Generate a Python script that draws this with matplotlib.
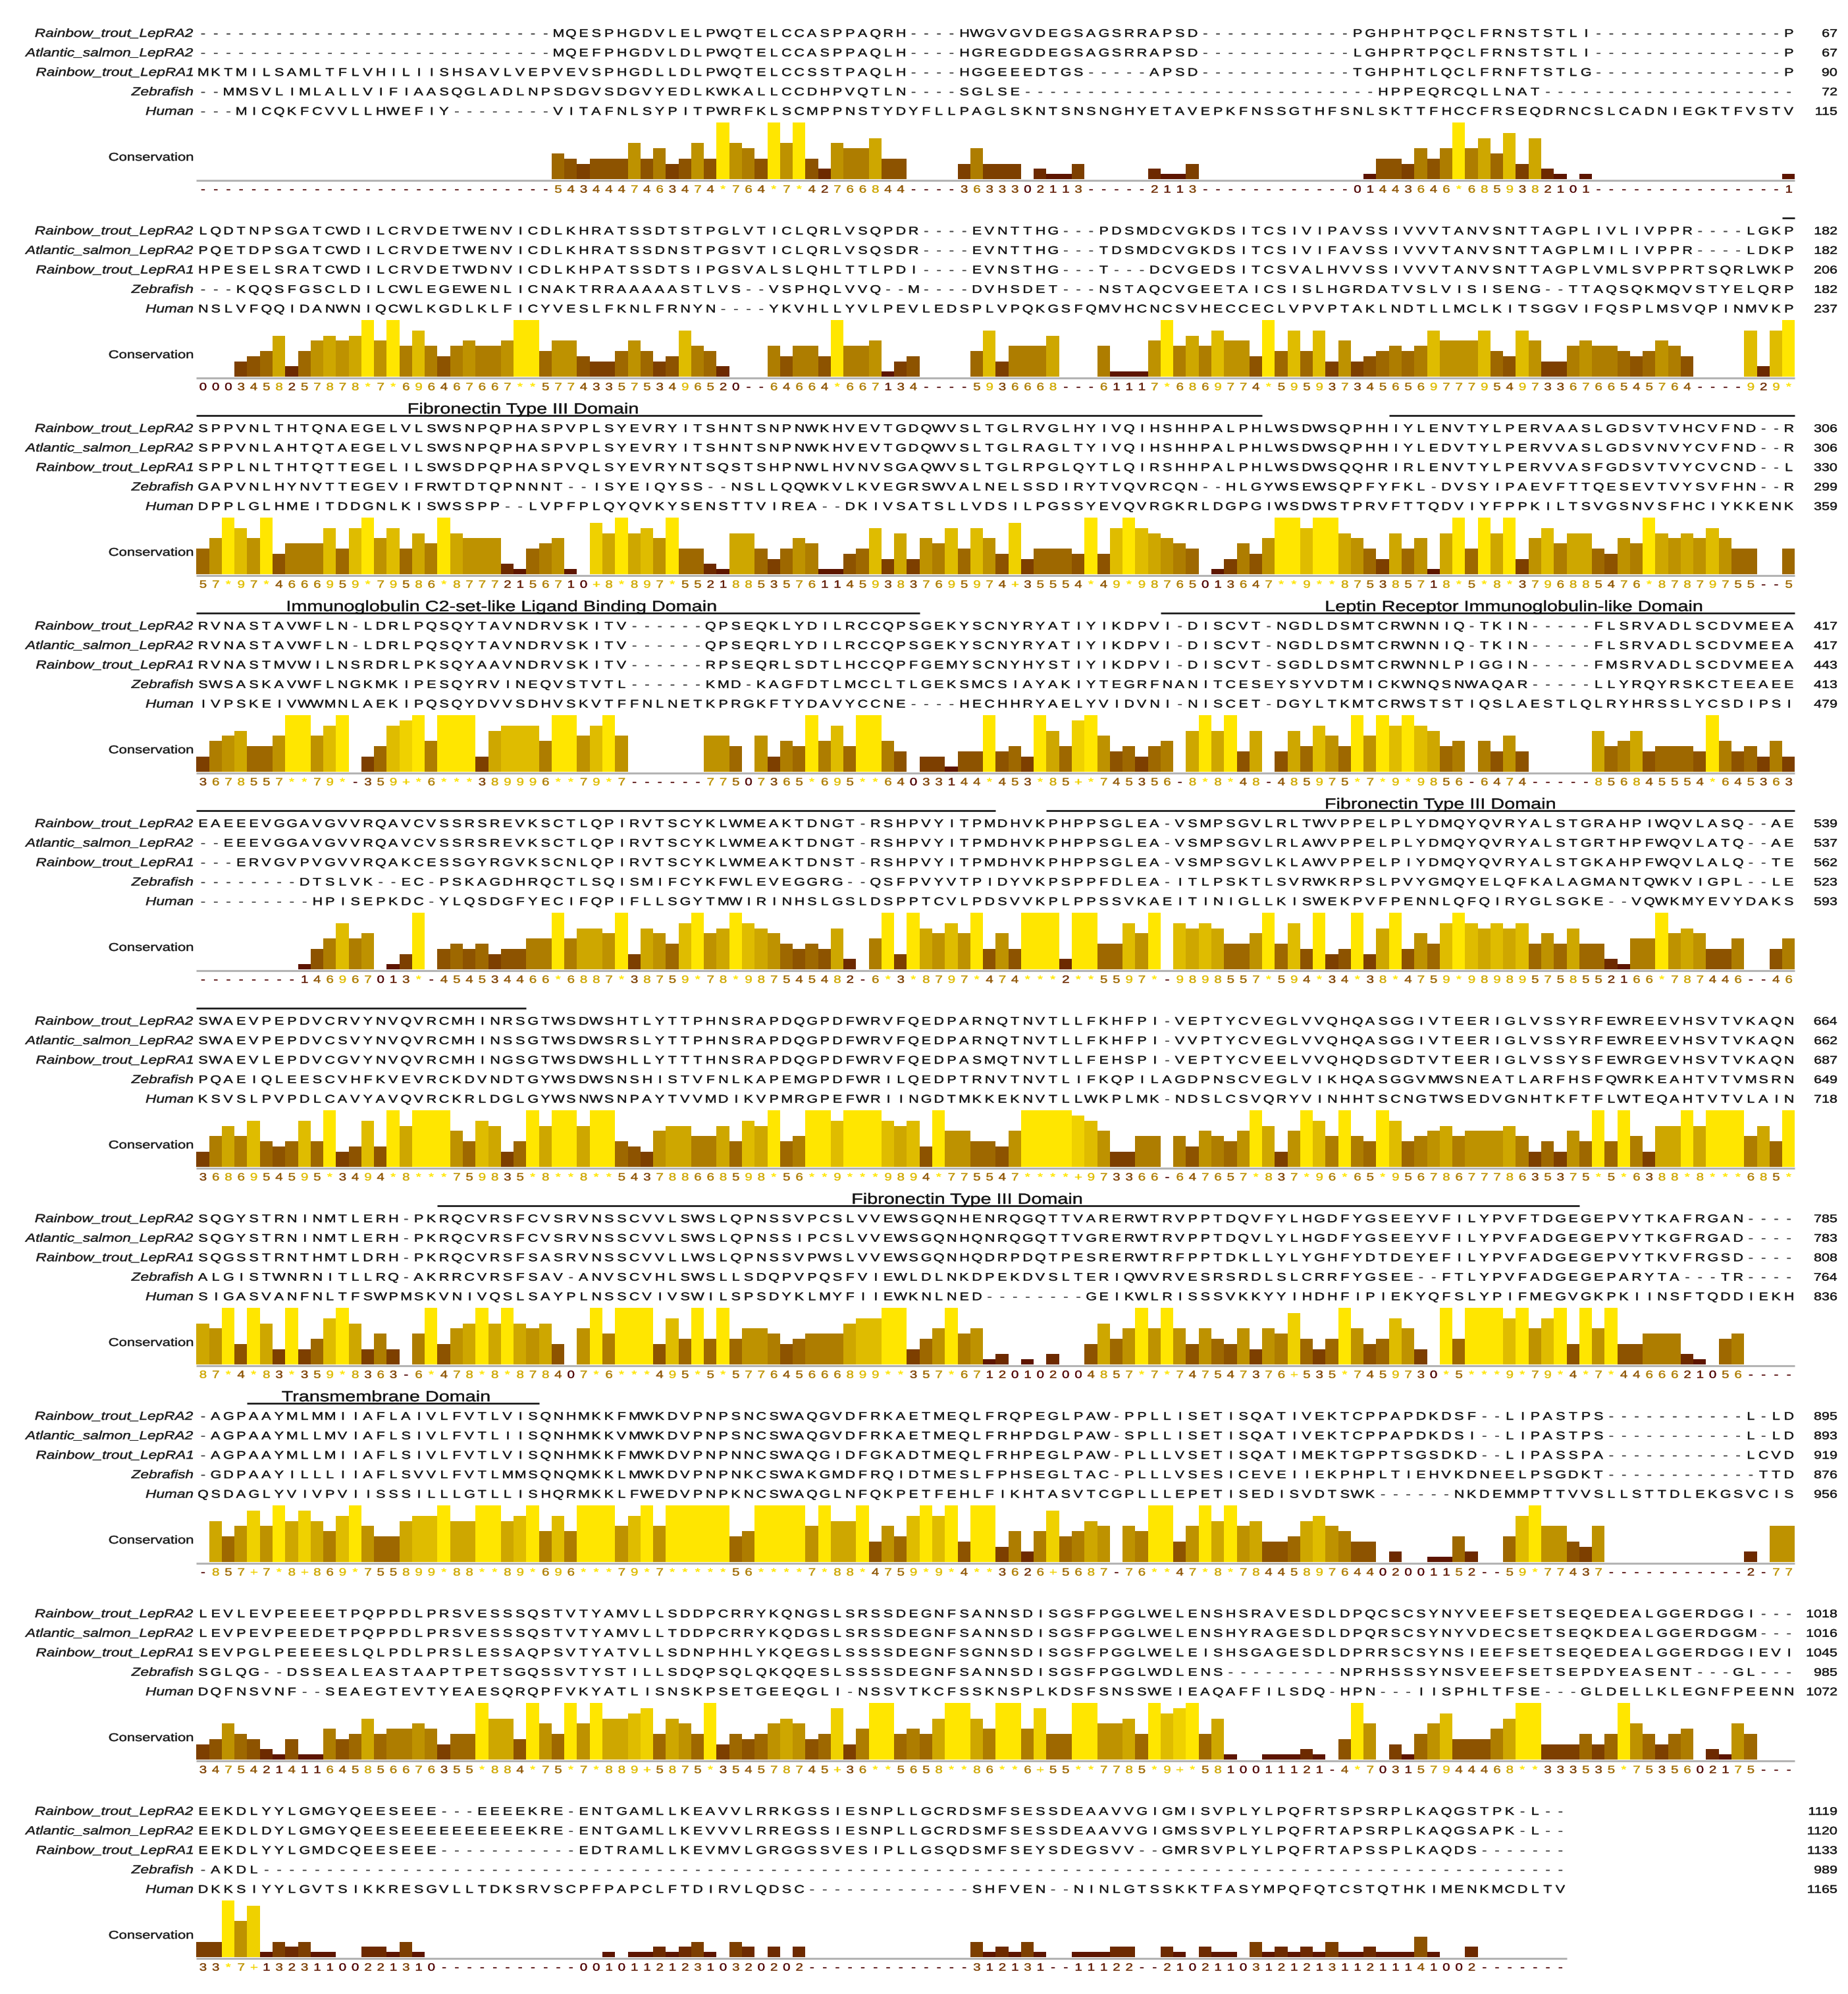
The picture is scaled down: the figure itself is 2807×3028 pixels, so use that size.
import numpy as np
import matplotlib
matplotlib.use("Agg")
import matplotlib.pyplot as plt
from matplotlib.textpath import TextPath
from matplotlib.font_manager import FontProperties
from matplotlib.path import Path
from matplotlib.patches import PathPatch

# ---- data: alignment, one string per block ----
SPECIES = ["Rainbow_trout_LepRA2", "Atlantic_salmon_LepRA2", "Rainbow_trout_LepRA1",
           "Zebrafish", "Human"]

RT_LEPRA2 = [
    "-" * 28 + "MQESPHGDVLELPWQTELCCASPPAQRH----HWGVGVDEGSAGSRRAPSD" + "-" * 12 + "PGHPHTPQCLFRNSTSTLI" + "-" * 15 + "P",
    "LQDTNPSGATCWDILCRVDETWENVICDLKHRATSSDTSTPGLVTICLQRLVSQPDR----EVNTTHG---PDSMDCVGKDSITCSIVIPAVSSIVVVTANVSNTTAGPLIVLIVPPR----LGKP",
    "SPPVNLTHTQNAEGELVLSWSNPQPHASPVPLSYEVRYITSHNTSNPNWKHVEVTGDQWVSLTGLRVGLHYIVQIHSHHPALPHLWSDWSQPHHIYLENVTYLPERVAASLGDSVTVHCVFND--R",
    "RVNASTAVWFLN-LDRLPQSQYTAVNDRVSKITV------QPSEQKLYDILRCCQPSGEKYSCNYRYATIYIKDPVI-DISCVT-NGDLDSMTCRWNNIQ-TKIN-----FLSRVADLSCDVMEEA",
    "EAEEEVGGAVGVVRQAVCVSSRSREVKSCTLQPIRVTSCYKLWMEAKTDNGT-RSHPVYITPMDHVKPHPPSGLEA-VSMPSGVLRLTWVPPELPLYDMQYQVRYALSTGRAHPIWQVLASQ--AE",
    "SWAEVPEPDVCRVYNVQVRCMHINRSGTWSDWSHTLYTTPHNSRAPDQGPDFWRVFQEDPARNQTNVTLLFKHFPI-VEPTYCVEGLVVQHQASGGIVTEERIGLVSSYRFEWREEVHSVTVKAQN",
    "SQGYSTRNINMTLERH-PKRQCVRSFCVSRVNSSCVVLSWSLQPNSSVPCSLVVEWSGQNHENRQGQTTVARERWTRVPPTDQVFYLHGDFYGSEEYVFILYPVFTDGEGEPVYTKAFRGAN----",
    "-AGPAAYMLMMIIAFLAIVLFVTLVISQNHMKKFMWKDVPNPSNCSWAQGVDFRKAETMEQLFRQPEGLPAW-PPLLISETISQATIVEKTCPPAPDKDSF--LIPASTPS" + "-" * 11 + "L-LD",
    "LEVLEVPEEEETPQPPDLPRSVESSSQSTVTYAMVLLSDDPCRRYKQNGSLSRSSDEGNFSANNSDISGSFPGGLWELENSHSRAVESDLDPQCSCSYNYVEEFSETSEQEDEALGGERDGGI---",
    "EEKDLYYLGMGYQEESEEE---EEEEKRE-ENTGAMLLKEAVVLRRKGSSIESNPLLGCRDSMFSESSDEAAVVGIGMISVPLYLPQFRTSPSRPLKAQGSTPK-L--",
]

AS_LEPRA2 = [
    "-" * 28 + "MQEFPHGDVLDLPWQTELCCASPPAQLH----HGREGDDEGSAGSRRAPSD" + "-" * 12 + "LGHPRTPQCLFRNSTSTLI" + "-" * 15 + "P",
    "PQETDPSGATCWDILCRVDETWENVICDLKHRATSSDNSTPGSVTICLQRLVSQSDR----EVNTTHG---TDSMDCVGKDSITCSIVIFAVSSIVVVTANVSNTTAGPLMILIVPPR----LDKP",
    "SPPVNLAHTQTAEGELVLSWSNPQPHASPVPLSYEVRYITSHNTSNPNWKHVEVTGDQWVSLTGLRAGLTYIVQIHSHHPALPHLWSDWSQPHHIYLEDVTYLPERVVASLGDSVNVYCVFND--R",
    "RVNASTAVWFLN-LDRLPQSQYTAVNDRVSKITV------QPSEQRLYDILRCCQPSGEKYSCNYRYATIYIKDPVI-DISCVT-NGDLDSMTCRWNNIQ-TKIN-----FLSRVADLSCDVMEEA",
    "--EEEVGGAVGVVRQAVCVSSRSREVKSCTLQPIRVTSCYKLWMEAKTDNGT-RSHPVYITPMDHVKPHPPSGLEA-VSMPSGVLRLAWVPPELPLYDMQYQVRYALSTGRTHPFWQVLATQ--AE",
    "SWAEVPEPDVCSVYNVQVRCMHINSSGTWSDWSRSLYTTPHNSRAPDQGPDFWRVFQEDPARNQTNVTLLFKHFPI-VVPTYCVEGLVVQHQASGGIVTEERIGLVSSYRFEWREEVHSVTVKAQN",
    "SQGYSTRNINMTLERH-PKRQCVRSFCVSRVNSSCVVLSWSLQPNSSIPCSLVVEWSGQNHQNRQGQTTVGRERWTRVPPTDQVLYLHGDFYGSEEYVFILYPVFADGEGEPVYTKGFRGAD----",
    "-AGPAAYMLLMVIAFLSIVLFVTLIISQNHMKKVMWKDVPNPSNCSWAQGVDFRKAETMEQLFRHPDGLPAW-SPLLISETISQATIVEKTCPPAPDKDSI--LIPASTPS" + "-" * 11 + "L-LD",
    "LEVPEVPEEDETPQPPDLPRSVESSSQSTVTYAMVLLTDDPCRRYKQDGSLSRSSDEGNFSANNSDISGSFPGGLWELENSHYRAGESDLDPQRSCSYNYVDECSETSEQKDEALGGERDGGM---",
    "EEKDLDYLGMGYQEES" + "E" * 10 + "KRE-ENTGAMLLKEVVVLRREGSSIESNPLLGCRDSMFSESSDEAAVVGIGMSSVPLYLPQFRTAPSRPLKAQGSAPK-L--",
]

RT_LEPRA1 = [
    "MKTMILSAMLTFLVHILIISHSAVLVEPVEVSPHGDLLDLPWQTELCCSSTPAQLH----HGGEEEDTGS-----APSD" + "-" * 12 + "TGHPHTLQCLFRNFTSTLG" + "-" * 15 + "P",
    "HPESELSRATCWDILCRVDETWDNVICDLKHPATSSDTSIPGSVALSLQHLTTLPDI----EVNSTHG---T---DCVGEDSITCSVALHVVSSIVVVTANVSNTTAGPLVMLSVPPRTSQRLWKP",
    "SPPLNLTHTQTTEGELILSWSDPQPHASPVQLSYEVRYNTSQSTSHPNWLHVNVSGAQWVSLTGLRPGLQYTLQIRSHHPALPHLWSDWSQQHRIRLENVTYLPERVVASFGDSVTVYCVCND--L",
    "RVNASTMVWILNSRDRLPKSQYAAVNDRVSKITV------RPSEQRLSDTLHCCQPFGEMYSCNYHYSTIYIKDPVI-DISCVT-SGDLDSMTCRWNNLPIGGIN-----FMSRVADLSCDVMEEA",
    "---ERVGVPVGVVRQAKCESSGYRGVKSCNLQPIRVTSCYKLWMEAKTDNST-RSHPVYITPMDHVKPHPPSGLEA-VSMPSGVLKLAWVPPELPIYDMQYQVRYALSTGKAHPFWQVLALQ--TE",
    "SWAEVLEPDVCGVYNVQVRCMHINGSGTWSDWSHLLYTTTHNSRAPDQGPDFWRVFQEDPASMQTNVTLLFEHSPI-VEPTYCVEELVVQHQDSGDTVTEERIGLVSSYSFEWRGEVHSVTVKAQN",
    "SQGSSTRNTHMTLDRH-PKRQCVRSFSASRVNSSCVVLLWSLQPNSSVPWSLVVEWSGQNHQDRPDQTPESRERWTRFPPTDKLLYLYGHFYDTDEYEFILYPVFADGEGEPVYTKVFRGSD----",
    "-AGPAAYMLLMIIAFLSIVLFVTLVISQNHMKKFMWKDVPNPNNCSWAQGIDFGKADTMEQLFRHPEGLPAW-PLLLVSETISQATIMEKTGPPTSGSDKD--LIPASSPA" + "-" * 11 + "LCVD",
    "SEVPGLPEEEESLQLPDLPRSLESSAQPSVTYATVLLSDNPHHLYKQEGSLSSSSDEGNFSGNNSDISGSFPGGLWELEISHSGAGESDLDPRRSCSYNSIEEFSETSEQEDEALGGERDGGIEVI",
    "EEKDLYYLGMDCQEESEEE" + "-" * 11 + "EDTRAMLLKEVMVLGRGGSSVESIPLLGSQDSMFSEYSDEGSVV--GMRSVPLYLPQFRTAPSSPLKAQDS" + "-" * 7,
]

ZEBRAFISH = [
    "--MMSVLIMLALLVIFIAASQGLADLNPSDGVSDGVYEDLKWKALLCCDHPVQTLN----SGLSE" + "-" * 28 + "HPPEQRCQLLNAT" + "-" * 20,
    "---KQQSFGSCLDILCWLEGEWENLICNAKTRRAAAAASTLVS--VSPHQLVVQ--M----DVHSDET---NSTAQCVGEETAICSISLHGRDATVSLVISISENG--TTAQSQKMQVSTYELQRP",
    "GAPVNLHYNVTTEGEVIFRWTDTQPNNNT--ISYEIQYSS--NSLLQQWKVLKVEGRSWVALNELSSDIRYTVQVRCQN--HLGYWSEWSQPFYFKL-DVSYIPAEVFTTQESEVTVYSVFHN--R",
    "SWSASKAVWFLNGKMKIPESQYRVINEQVSTVTL------KMD-KAGFDTLMCCLTLGEKSMCSIAYAKIYTEGRFNANITCESEYSYVDTMICKWNQSNWAQAR-----LLYRQYRSKCTEEAEE",
    "--------DTSLVK--EC-PSKAGDHRQCTLSQISMIFCYKFWLEVEGGRG--QSFPVYVTPIDYVKPSPPFDLEA-ITLPSKTLSVRWKRPSLPVYGMQYELQFKALAGMANTQWKVIGPL--LE",
    "PQAEIQLEESCVHFKVEVRCKDVNDTGYWSDWSNSHISTVFNLKAPEMGPDFWRILQEDPTRNVTNVTLIFKQPILAGDPNSCVEGLVIKHQASGGVMWSNEATLARFHSFQWRKEAHTVTVMSRN",
    "ALGISTWNRNITLLRQ-AKRRCVRSFSAV-ANVSCVHLSWSLLSDQPVPQSFVIEWLDLNKDPEKDVSLTERIQWVRVESRSRDLSLCRRFYGSEE--FTLYPVFADGEGEPARYTA---TR----",
    "-GDPAAYILLLIIAFLSVVLFVTLMMSQNQMKKLMWKDVPNPNKCSWAKGMDFRQIDTMESLFPHSEGLTAC-PLLLVSESICEVEIIEKPHPLTIEHVKDNEELPSGDKT" + "-" * 12 + "TTD",
    "SGLQG--DSSEALEASTAAPTPETSGQSSVTYSTILLSDQPSQLQKQQESLSSSSDEGNFSANNSDISGSFPGGLWDLENS" + "-" * 9 + "NPRHSSSYNSVEEFSETSEPDYEASENT---GL---",
    "-AKDL" + "-" * 103,
]

HUMAN = [
    "---MICQKFCVVLLHWEFIY--------VITAFNLSYPITPWRFKLSCMPPNSTYDYFLLPAGLSKNTSNSNGHYETAVEPKFNSSGTHFSNLSKTTFHCCFRSEQDRNCSLCADNIEGKTFVSTV",
    "NSLVFQQIDANWNIQCWLKGDLKLFICYVESLFKNLFRNYN----YKVHLLYVLPEVLEDSPLVPQKGSFQMVHCNCSVHECCECLVPVPTAKLNDTLLMCLKITSGGVIFQSPLMSVQPINMVKP",
    "DPPLGLHMEITDDGNLKISWSSPP--LVPFPLQYQVKYSENSTTVIREA--DKIVSATSLLVDSILPGSSYEVQVRGKRLDGPGIWSDWSTPRVFTTQDVIYFPPKILTSVGSNVSFHCIYKKENK",
    "IVPSKEIVWWMNLAEKIPQSQYDVVSDHVSKVTFFNLNETKPRGKFTYDAVYCCNE----HECHHRYAELYVIDVNI-NISCET-DGYLTKMTCRWSTSTIQSLAESTLQLRYHRSSLYCSDIPSI",
    "---------HPISEPKDC-YLQSDGFYECIFQPIFLLSGYTMWIRINHSLGSLDSPPTCVLPDSVVKPLPPSSVKAEITINIGLLKISWEKPVFPENNLQFQIRYGLSGKE--VQWKMYEVYDAKS",
    "KSVSLPVPDLCAVYAVQVRCKRLDGLGYWSNWSNPAYTVVMDIKVPMRGPEFWRIINGDTMKKEKNVTLLWKPLMK-NDSLCSVQRYVINHHTSCNGTWSEDVGNHTKFTFLWTEQAHTVTVLAIN",
    "SIGASVANFNLTFSWPMSKVNIVQSLSAYPLNSSCVIVSWILSPSDYKLMYFIIEWKNLNED--------GEIKWLRISSSVKKYYIHDHFIPIEKYQFSLYPIFMEGVGKPKIINSFTQDDIEKH",
    "QSDAGLYVIVPVIISSSILLLGTLLISHQRMKKLFWEDVPNPKNCSWAQGLNFQKPETFEHLFIKHTASVTCGPLLLEPETISEDISVDTSWK------NKDEMMPTTVVSLLSTTDLEKGSVCIS",
    "DQFNSVNF--SEAEGTEVTYEAESQRQPFVKYATLISNSKPSETGEEQGLI-NSSVTKCFSSKNSPLKDSFSNSSWEIEAQAFFILSDQ-HPN---IISPHLTFSE---GLDELLKLEGNFPEENN",
    "DKKSIYYLGVTSIKKRESGVLLTDKSRVSCPFPAPCLFTDIRVLQDSC" + "-" * 13 + "SHFVEN--NINLGTSSKKTFASYMPQFQTCSTQTHKIMENKMCDLTV",
]

# conservation score per column: 0-9, '+' = 10, '*' = 11, '-' = gapped column
CONSERVATION = [
    "-" * 28 + "5434447463474*764*7*42766844----3633302113-----2113" + "-" * 12 + "01443646*6859382101" + "-" * 15 + "1",
    "0003458257878*7*696467667**5774335753496520--64664*667134----5936668---61117*6869774*595937345656977795497336766545764----929*",
    "57*97*4666959*79586*87772156710+8*897*5521885357611459383" + "7695974+35554*49*98765013647**9**875385718*5*8*3796885476*87879755" + "--5",
    "3678557**79*-359+*6***389996**79*7------77507365*695**64033144*453*85+*745356-8*8*48-485975*7*9*9856-6474-----856845554*645363",
    "--------146967013*-454534466*6887*38759*78*987545482-6*3*8797*474***2**5597*-9898557*594*34*38*4759*989895758552166*787446--46",
    "3686954595*3494*8***759835*8**8**543788668598*56**9***9894*775547****+973366-647657*837*96*65*9567867778635375*5*6388*8***685*",
    "87*4*83*359*8363-6*478*8*878407*6***495*5*577645666899**357*67120102004857*7*747547376+535*7459730*5***9*79*4*7*4466621056----",
    "-857+7*8+869*755899*88**89*696***79*7*****56****7*88*4759*9*4**3626+5687-76**47*8*7844589764402001152--59*77437" + "-" * 11 + "2-77",
    "3475421411645856676355*884*75*7*889+5875*354578745+36**5658**86**6+55**7785*9+*5810011121-4*703157944468**333535*7535602175---",
    "33*7+13231100221310" + "-" * 11 + "001011212310320202" + "-" * 13 + "312131--11122--2102110312121311211141002" + "-" * 7,
]

# domain bars: (block, first column, last column)
DOMAIN_SPANS = [(1, 126, 126), (2, 1, 84), (2, 95, 126), (3, 1, 57), (3, 77, 126),
                (4, 1, 63), (4, 68, 126), (5, 1, 26), (6, 20, 109), (7, 5, 27)]
# domain names: (block, centre column, text)
DOMAIN_NAMES = [(2, 26.2, "Fibronectin Type III Domain"),
                (3, 24.5, "Immunoglobulin C2-set-like Ligand Binding Domain"),
                (3, 104.3, "Leptin Receptor Immunoglobulin-like Domain"),
                (4, 98.5, "Fibronectin Type III Domain"),
                (6, 61.2, "Fibronectin Type III Domain"),
                (7, 15.4, "Transmembrane Domain")]

# ---- layout (pixels) ----
W, H = 2807, 3028
COL_PX = 19.27        # width of one column
COL1_PX = 308         # centre of column 1
BLOCK_PITCH = 300
ROW0 = 50
ROW_STEP = 29.6
BASE0 = 272
BAR_UNIT = 7.8
DIGIT_Y0 = 287
CONS_LABEL_Y0 = 238
STRETCH = 1.28


def px_col(px):
    return 1 + (px - COL1_PX) / COL_PX


def score_of(ch):
    if ch == "*":
        return 11
    if ch == "+":
        return 10
    return int(ch)


def cons_color(s):
    v = s / 11.0
    return (round(0.3 + 0.7 * v, 4), round(0.9 * v, 4), 0.0)


fp_reg = FontProperties(family="Liberation Sans")
fp_ita = FontProperties(family="Liberation Sans", style="italic")

_cache = {}
paths_by_color = {}


def add_text(s, x, ybase, em, color, prop, ha="center", stretch=STRETCH):
    key = (s, prop.get_style())
    if key not in _cache:
        _cache[key] = TextPath((0, 0), s, size=1.0, prop=prop)
    tp = _cache[key]
    v = tp.vertices
    if len(v) == 0:
        return
    if ha == "center":
        ref = (v[:, 0].min() + v[:, 0].max()) / 2
    elif ha == "right":
        ref = v[:, 0].max()
    else:
        ref = v[:, 0].min()
    nv = np.column_stack([x + (v[:, 0] - ref) * em * stretch / COL_PX,
                          ybase - v[:, 1] * em])
    paths_by_color.setdefault(color, []).append(Path(nv, tp.codes))


fig = plt.figure(figsize=(W / 100, H / 100), dpi=100)
ax = fig.add_axes([0, 0, 1, 1])
ax.set_xlim(px_col(0), px_col(W))
ax.set_ylim(H, 0)
ax.axis("off")

rows = [RT_LEPRA2, AS_LEPRA2, RT_LEPRA1, ZEBRAFISH, HUMAN]
counts = [0] * len(rows)
SEQ_EM = 16.8
NAME_EM = 17.7

for b in range(len(CONSERVATION)):
    top = b * BLOCK_PITCH
    ncol = len(RT_LEPRA2[b])
    for r, seqs in enumerate(rows):
        yb = top + ROW0 + r * ROW_STEP + 6.0
        add_text(SPECIES[r], px_col(293), yb, NAME_EM, "#1a1a1a", fp_ita, ha="right")
        for c, ch in enumerate(seqs[b]):
            add_text(ch, c + 1, yb, SEQ_EM, "#111111" if ch != "-" else "#444444", fp_reg)
        counts[r] += sum(1 for ch in seqs[b] if ch != "-")
        add_text(str(counts[r]), px_col(2790), yb, SEQ_EM, "#111111", fp_reg, ha="right")

    # conservation histogram
    base = top + BASE0
    cons = CONSERVATION[b]
    xs, hs, cs = [], [], []
    for c, ch in enumerate(cons):
        if ch == "-":
            add_text("-", c + 1, top + DIGIT_Y0 + 5.5, 16.0, cons_color(0), fp_reg)
            continue
        s = score_of(ch)
        add_text(ch, c + 1, top + DIGIT_Y0 + 5.5, 16.0, cons_color(s), fp_reg)
        if s > 0:
            xs.append(c + 1)
            hs.append(s * BAR_UNIT)
            cs.append(cons_color(s))
    hs = np.array(hs)
    ax.bar(xs, hs, width=1.0, bottom=base - hs, color=cs, linewidth=0, zorder=2)
    ax.plot([0.5, ncol + 0.5], [base + 1.5, base + 1.5], color="#b4b4b4",
            lw=2.2, solid_capstyle="butt", zorder=1)
    add_text("Conservation", px_col(293), top + CONS_LABEL_Y0 + 6.0, 17.2, "#1a1a1a",
             fp_reg, ha="right")

# domain annotation lines and names
for b, c0, c1 in DOMAIN_SPANS:
    y = b * BLOCK_PITCH + ROW0 - 19
    ax.plot([c0 - 0.5, c1 + 0.5], [y, y], color="#141414", lw=1.9,
            solid_capstyle="butt", zorder=3)
for b, cc, text in DOMAIN_NAMES:
    y = b * BLOCK_PITCH + ROW0 - 22
    add_text(text, cc, y, 22.5, "#111111", fp_reg, ha="center")

# a thin outline in the fill colour gives the slightly heavier strokes of the original
for color, plist in paths_by_color.items():
    ax.add_patch(PathPatch(Path.make_compound_path(*plist), facecolor=color,
                           edgecolor=color, lw=0.35, zorder=4))

fig.savefig("out.png", dpi=100, facecolor="white")
